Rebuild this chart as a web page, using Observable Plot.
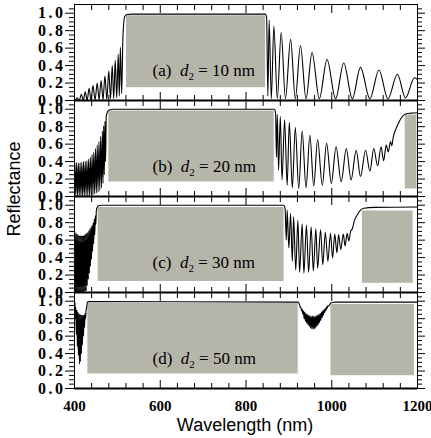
<!DOCTYPE html>
<html><head><meta charset="utf-8">
<script src="https://cdn.jsdelivr.net/npm/d3@7"></script>
<script src="https://cdn.jsdelivr.net/npm/@observablehq/plot@0.6"></script>
<style>
body{margin:0;background:#fff;}
#wrap{position:relative;width:431px;height:438px;overflow:hidden;background:#fff;}
#ylab{position:absolute;left:14px;top:189px;transform:translate(-50%,-50%) rotate(-90deg);font:18px "Liberation Sans",Arial,sans-serif;white-space:nowrap;}
#xlab{position:absolute;left:245px;top:425px;transform:translate(-50%,-50%);font:18px "Liberation Sans",Arial,sans-serif;white-space:nowrap;}
g[aria-label="y-axis tick label"] text{letter-spacing:2.5px;}
</style></head><body>
<div id="wrap"><div id="chart"></div><div id="ylab">Reflectance</div><div id="xlab">Wavelength (nm)</div></div>
<script>
// ---- data ----
const panels = ["a", "b", "c", "d"];
const thickness = [10, 20, 30, 50];
const xMajor = [400, 600, 800, 1000, 1200];
const xMinor = [440, 480, 520, 560, 640, 680, 720, 760, 840, 880, 920, 960, 1040, 1080, 1120, 1160];
const yMajor = [0, 0.2, 0.4, 0.6, 0.8, 1.0];
const yMinor = [0.05, 0.1, 0.15, 0.25, 0.3, 0.35, 0.45, 0.5, 0.55, 0.65, 0.7, 0.75, 0.85, 0.9, 0.95, 1.05];

// [wavelength nm, reflectance]
const curveA = [[400,0.01],[402,0.0],[406,0.03],[411,0.0],[416,0.07],[420.5,0.0],[425,0.10],[429.5,0.0],[434,0.14],[438.5,0.0],[443,0.17],[448,0.01],[453,0.20],[457.5,0.01],[462,0.23],[466.5,0.01],[471,0.28],[475.5,0.01],[480,0.34],[484,0.02],[488,0.40],[491.5,0.02],[495,0.46],[498.5,0.03],[502,0.53],[504.5,0.05],[507,0.61],[510,0.08],[513,0.74],[517,0.96],[522,0.985],[535,0.99],[845,0.99],[848,0.96],[851,0.05],[854,0.92],[859,0.02],[865,0.85],[873,0.02],[882,0.78],[892,0.02],[904,0.70],[915,0.02],[927,0.63],[940,0.02],[954,0.55],[971,0.02],[989,0.47],[1009,0.02],[1028,0.43],[1048,0.02],[1067,0.38],[1089,0.02],[1110,0.35],[1131,0.02],[1153,0.30],[1172,0.03],[1193,0.26],[1200,0.24]];

const curveB = [[400,0.30],[401,0.38],[403,0.0],[405,0.39],[407,0.0],[409,0.38],[411,0.0],[413,0.39],[415,0.0],[417,0.39],[419,0.0],[421,0.40],[423,0.01],[425,0.40],[427,0.01],[429,0.41],[431,0.01],[433,0.43],[435,0.01],[437,0.45],[439,0.02],[441,0.48],[443,0.02],[445,0.51],[447,0.03],[449,0.55],[451,0.04],[453,0.59],[455,0.05],[457,0.63],[459,0.07],[461,0.69],[463,0.10],[465,0.75],[466.5,0.15],[468,0.81],[469.5,0.25],[471,0.86],[472.5,0.40],[474,0.92],[477,0.97],[481,0.99],[490,1.0],[866,1.0],[869,0.96],[871,0.45],[873,0.94],[876,0.3],[880,0.92],[884,0.19],[890,0.88],[896,0.13],[901,0.85],[908,0.10],[915,0.79],[923,0.09],[931,0.75],[940,0.10],[949,0.70],[958,0.12],[967,0.65],[978,0.13],[988,0.61],[999,0.15],[1010,0.57],[1022,0.17],[1034,0.55],[1045,0.19],[1057,0.53],[1067,0.23],[1079,0.53],[1089,0.29],[1098,0.55],[1107,0.35],[1115,0.57],[1121,0.41],[1127,0.59],[1132,0.51],[1137,0.63],[1140,0.58],[1143,0.67],[1153,0.81],[1162,0.90],[1172,0.945],[1185,0.955],[1200,0.96]];

const curveC = [[400,0.68],[401,0.70],[402.2,0.0],[403.5,0.68],[404.7,0.0],[406,0.67],[407.2,0.0],[408.5,0.66],[409.7,0.0],[411,0.65],[412.2,0.0],[413.5,0.65],[414.7,0.0],[416,0.65],[417.2,0.0],[418.5,0.65],[419.7,0.0],[421,0.65],[422.2,0.01],[423.5,0.66],[424.7,0.01],[426,0.67],[427.2,0.02],[428.5,0.68],[429.7,0.08],[431,0.69],[432.2,0.15],[433.5,0.71],[434.7,0.22],[436,0.73],[437.2,0.30],[438.5,0.75],[439.7,0.38],[441,0.77],[442.2,0.47],[443.5,0.80],[444.7,0.56],[446,0.84],[447.2,0.66],[448.5,0.88],[449.7,0.78],[451,0.94],[452.5,0.97],[455,0.99],[462,1.0],[888,1.0],[891,0.97],[894,0.6],[896,0.945],[900,0.51],[904,0.906],[908,0.357],[911,0.867],[916,0.259],[921,0.827],[925,0.232],[931,0.788],[935,0.22],[941,0.769],[946,0.232],[952,0.75],[957,0.247],[963,0.73],[967,0.278],[974,0.718],[979,0.318],[985,0.69],[991,0.357],[997,0.678],[1002,0.396],[1007,0.67],[1012,0.455],[1016,0.663],[1021,0.494],[1027,0.67],[1031,0.533],[1036,0.678],[1040,0.59],[1044,0.70],[1048,0.73],[1053,0.827],[1059,0.886],[1067,0.945],[1075,0.965],[1100,0.975],[1200,0.98]];

const curveD = [[400,1.0],[401,0.97],[402,0.80],[403,0.93],[404.2,0.62],[405.4,0.90],[406.6,0.48],[407.8,0.88],[409,0.38],[410.2,0.86],[411.4,0.28],[412.6,0.85],[413.8,0.31],[415,0.845],[416.2,0.40],[417.4,0.84],[418.6,0.50],[419.8,0.84],[421,0.60],[422.2,0.845],[423.4,0.70],[424.6,0.86],[425.8,0.80],[427,0.90],[428.2,0.92],[430,0.99],[435,0.995],[921,0.99],[923,0.98],[925,0.96],[926.5,0.93],[928,0.93],[929.5,0.89],[931,0.91],[932.5,0.85],[934,0.89],[935.5,0.80],[937,0.875],[938.5,0.77],[940,0.86],[941.5,0.75],[943,0.85],[944.5,0.73],[946,0.84],[947.5,0.71],[949,0.835],[950.5,0.695],[952,0.83],[953.5,0.685],[955,0.83],[956.5,0.68],[958,0.83],[959.5,0.685],[961,0.83],[962.5,0.695],[964,0.835],[965.5,0.71],[967,0.84],[968.5,0.73],[970,0.85],[971.5,0.755],[973,0.86],[974.5,0.78],[976,0.875],[977.5,0.81],[979,0.89],[980.5,0.84],[982,0.905],[983.5,0.87],[985,0.92],[986.5,0.895],[988,0.935],[989.5,0.92],[991,0.95],[993,0.945],[996,0.97],[1001,0.985],[1010,0.99],[1200,0.99]];

// band-gap boxes: [x1 nm, x2 nm, y1, y2]
const boxesA = [[520, 847, 0.14, 0.977]];
const boxesB = [[479, 867, 0.16, 0.985], [1170, 1200, 0.08, 0.94]];
const boxesC = [[454, 890, 0.12, 0.98], [1070, 1191, 0.10, 0.94]];
const boxesD = [[430, 923, 0.16, 0.98], [997, 1194, 0.14, 0.97]];

// ---- tables ----
const curves = [curveA, curveB, curveC, curveD];
const boxes = [boxesA, boxesB, boxesC, boxesD];
const curveRows = curves.flatMap((c, i) => c.map(([w, r]) => ({panel: panels[i], w, r})));
const boxRows = boxes.flatMap((b, i) => b.map(([x1, x2, y1, y2]) => ({panel: panels[i], x1, x2, y1, y2})));
const labelRows = panels.map((p, i) => ({panel: p, label: `(${p})  d2 = ${thickness[i]} nm`}));

const serif = "'Liberation Serif', 'Times New Roman', serif";

const chart = Plot.plot({
  width: 431, height: 438,
  marginTop: 4, marginBottom: 50, marginLeft: 74, marginRight: 14,
  style: {background: "white", overflow: "visible", color: "black"},
  x: {domain: [400, 1200]},
  y: {domain: [0, 1.1]},
  fy: {domain: panels, padding: 0, axis: null},
  marks: [
    Plot.rect(boxRows, {x1: "x1", x2: "x2", y1: "y1", y2: "y2", fy: "panel", fill: "#b5b5aa", stroke: "white", strokeWidth: 1}),
    Plot.line(curveRows, {x: "w", y: "r", fy: "panel", stroke: "black", strokeWidth: 1.1, curve: "monotone-x"}),
    Plot.frame({stroke: "black", strokeWidth: 1}),
    Plot.ruleY([0], {stroke: "black", strokeWidth: 2}),
    // y axes
    Plot.axisY(yMajor, {anchor: "left", tickSize: 9, tickPadding: 0, tickFormat: d3.format(".1f"), fontSize: 16, fontWeight: "bold", fontFamily: serif, label: null}),
    Plot.axisY(yMinor, {anchor: "left", tickSize: 5, fill: "none", label: null}),
    Plot.axisY(yMajor, {anchor: "right", tickSize: 7, fill: "none", label: null}),
    Plot.axisY(yMinor, {anchor: "right", tickSize: 4, fill: "none", label: null}),
    // x ticks inside, every panel
    Plot.axisX(xMajor, {anchor: "top", tickSize: 8, dy: 8, fill: "none", label: null, facetAnchor: null}),
    Plot.axisX(xMinor, {anchor: "top", tickSize: 5, dy: 5, fill: "none", label: null, facetAnchor: null}),
    Plot.axisX(xMajor, {anchor: "bottom", tickSize: 8, dy: -8, fill: "none", label: null, facetAnchor: null}),
    Plot.axisX(xMinor, {anchor: "bottom", tickSize: 5, dy: -5, fill: "none", label: null, facetAnchor: null}),
    // x labels
    Plot.axisX(xMajor, {anchor: "bottom", tickSize: 0, tickPadding: 12, tickFormat: d => String(d), fontSize: 15, fontWeight: "bold", fontFamily: serif, label: null}),
    // panel labels
    Plot.text(labelRows, {fy: "panel", text: "label", frameAnchor: "bottom-left", dx: 78, dy: -30, textAnchor: "start", lineAnchor: "middle", fontSize: 17, fontFamily: serif, fill: "black"})
  ]
});

// rich text for panel labels: italic d with subscript 2
const ns = "http://www.w3.org/2000/svg";
chart.querySelectorAll("text").forEach(t => {
  const m = t.textContent.match(/^\(([a-d])\)\s+d2 = (\d+) nm$/);
  if (!m) return;
  t.textContent = "";
  const add = (s, attrs) => { const ts = document.createElementNS(ns, "tspan"); ts.textContent = s; for (const k in attrs) ts.setAttribute(k, attrs[k]); t.appendChild(ts); };
  add(`(${m[1]})\u2002`, {});
  add("d", {"font-style": "italic"});
  add("2", {"font-size": 11, dy: 4});
  add(` = ${m[2]} nm`, {dy: -4});
});

document.getElementById("chart").appendChild(chart);
</script>
</body></html>
